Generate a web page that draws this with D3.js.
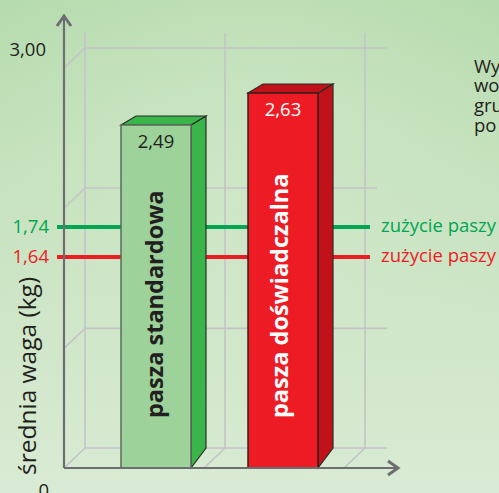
<!DOCTYPE html>
<html>
<head>
<meta charset="utf-8">
<script src="https://cdn.jsdelivr.net/npm/d3@7"></script>
<style>
html, body { margin: 0; padding: 0; overflow: hidden; }
svg { display: block; }
text { font-family: "Open Sans", sans-serif; }
</style>
</head>
<body>
<script>
var width = 499;
var height = 493;

// chart values
var categories = ["pasza standardowa", "pasza doświadczalna"];
var values = [2.49, 2.63];
var valueLabels = ["2,49", "2,63"];
var refValues = [1.74, 1.64];
var refLabels = ["1,74", "1,64"];
var refNames = ["zużycie paszy", "zużycie paszy"];
var axisLabels = [[0, "0"], [3, "3,00"]];
var gridValues = [0, 0.93, 1.88, 3];
var noteLines = ["Wy", "wo", "gru", "po"];

// the printed chart is not to scale, so y is piecewise through the read values
var y = d3.scaleLinear()
    .domain([0, 1.64, 1.74, 2.49, 2.63, 3])
    .range([468, 257, 227, 125, 93, 68]);

var x = d3.scaleBand()
    .domain(categories)
    .range([121, 318])
    .paddingInner(0.449);

var wallX = d3.scalePoint().domain([0, 1, 2]).range([85, 365]);
var depthX = 21, depthY = 20;
var fontSize = "18.5px";

var svg = d3.select("body").append("svg")
    .attr("width", width)
    .attr("height", height);

var defs = svg.append("defs");
var bg = defs.append("linearGradient").attr("id", "bg")
    .attr("x1", 0).attr("y1", 0).attr("x2", 0).attr("y2", 1);
bg.append("stop").attr("offset", "0%").attr("stop-color", "#b6dbae");
bg.append("stop").attr("offset", "35%").attr("stop-color", "#c4e1bc");
bg.append("stop").attr("offset", "65%").attr("stop-color", "#cfe6c8");
bg.append("stop").attr("offset", "100%").attr("stop-color", "#d9ebd4");

var glow = defs.append("radialGradient").attr("id", "glow")
    .attr("cx", "50%").attr("cy", "38%").attr("r", "60%");
glow.append("stop").attr("offset", "0%").attr("stop-color", "#d2e9cb").attr("stop-opacity", 0.7);
glow.append("stop").attr("offset", "100%").attr("stop-color", "#d2e9cb").attr("stop-opacity", 0);

svg.append("rect").attr("width", width).attr("height", height).attr("fill", "url(#bg)");
svg.append("rect").attr("width", width).attr("height", height).attr("fill", "url(#glow)");

// back wall grid
var gridColor = "#c3c3c8";
var grid = svg.append("g").attr("fill", "none").attr("stroke", gridColor).attr("stroke-width", 1.6);

wallX.domain().forEach(function(d) {
    grid.append("line")
        .attr("x1", wallX(d)).attr("x2", wallX(d))
        .attr("y1", 33).attr("y2", y(0) - depthY);
});
gridValues.forEach(function(d, i) {
    var yy = y(d) - depthY;
    grid.append("line")
        .attr("x1", 85).attr("x2", i === 2 ? 377 : 387)
        .attr("y1", yy).attr("y2", yy);
    grid.append("line")
        .attr("x1", 64).attr("x2", 85)
        .attr("y1", y(d)).attr("y2", yy);
});
[1, 2].forEach(function(d) {
    grid.append("line")
        .attr("x1", wallX(d) - depthX).attr("x2", wallX(d))
        .attr("y1", y(0)).attr("y2", y(0) - depthY);
});

// reference lines, they pass behind the bars
var refColors = ["#00a651", "#ed1c24"];
refValues.forEach(function(d, i) {
    svg.append("line")
        .attr("x1", 57).attr("x2", 370)
        .attr("y1", y(d)).attr("y2", y(d))
        .attr("stroke", refColors[i])
        .attr("stroke-width", 4);
    svg.append("text")
        .attr("x", 49).attr("y", y(d) + 6)
        .attr("text-anchor", "end")
        .attr("fill", refColors[i])
        .style("font-size", fontSize)
        .text(refLabels[i]);
    svg.append("text")
        .attr("x", 381).attr("y", y(d) + 5)
        .attr("fill", refColors[i])
        .style("font-size", fontSize)
        .text(refNames[i]);
});

// bars
var faceColors = ["#9dd29b", "#ed1c24"];
var sideColors = ["#39b54a", "#c1121a"];
var edgeColors = ["#5d6b5d", "#3a1a1a"];
var textColors = ["#231f20", "#ffffff"];
var sideX = 15, topY = 9;

categories.forEach(function(c, i) {
    var x0 = x(c), x1 = x0 + x.bandwidth();
    var top = y(values[i]);
    var g = svg.append("g");

    g.append("path")
        .attr("d", "M" + x1 + "," + top + "L" + (x1 + sideX) + "," + (top - topY) +
                   "L" + (x1 + sideX) + "," + (y(0) - depthY) + "L" + x1 + "," + y(0) + "Z")
        .attr("fill", sideColors[i])
        .attr("stroke", "#2b2b2b")
        .attr("stroke-width", 1.2);
    g.append("path")
        .attr("d", "M" + x0 + "," + top + "L" + (x0 + sideX) + "," + (top - topY) +
                   "L" + (x1 + sideX) + "," + (top - topY) + "L" + x1 + "," + top + "Z")
        .attr("fill", sideColors[i])
        .attr("stroke", "#2b2b2b")
        .attr("stroke-width", 1.2);
    g.append("rect")
        .attr("x", x0).attr("y", top)
        .attr("width", x.bandwidth()).attr("height", y(0) - top)
        .attr("fill", faceColors[i])
        .attr("stroke", edgeColors[i])
        .attr("stroke-width", 1.5);

    g.append("text")
        .attr("x", (x0 + x1) / 2).attr("y", top + 23)
        .attr("text-anchor", "middle")
        .attr("fill", textColors[i])
        .style("font-size", fontSize)
        .text(valueLabels[i]);

    g.append("text")
        .attr("transform", "translate(" + ((x0 + x1) / 2 + 7 - 2 * i) + ",418) rotate(-90)")
        .attr("fill", textColors[i])
        .style("font-size", "23.5px")
        .style("font-weight", "700")
        .text(c);
});

// axes
var axisColor = "#6d6e71";
var axes = svg.append("g").attr("fill", "none").attr("stroke", axisColor).attr("stroke-width", 2.2);
axes.append("path").attr("d", d3.line()([[64, y(0)], [64, 16]]));
axes.append("path").attr("d", d3.line()([[64, y(0)], [398, y(0)]]));
axes.append("path").attr("stroke-width", 3).attr("d", d3.line()([[57, 26], [64, 16], [71, 26]]));
axes.append("path").attr("stroke-width", 3).attr("d", d3.line()([[388, 461], [398, 468], [388, 475]]));

axisLabels.forEach(function(d) {
    svg.append("text")
        .attr("x", d[0] === 0 ? 49 : 46).attr("y", d[0] === 0 ? 497 : 56)
        .attr("text-anchor", "end")
        .attr("fill", "#231f20")
        .style("font-size", fontSize)
        .text(d[1]);
});

svg.append("text")
    .attr("transform", "translate(36,475) rotate(-90)")
    .attr("fill", "#231f20")
    .style("font-size", "24.5px")
    .text("średnia waga (kg)");

// note on the right, cut by the page edge
svg.append("g").selectAll("text")
    .data(noteLines)
    .join("text")
    .attr("x", 474)
    .attr("y", function(d, i) { return 72.5 + i * 19.7; })
    .attr("fill", "#231f20")
    .style("font-size", fontSize)
    .text(function(d) { return d; });
</script>
</body>
</html>
